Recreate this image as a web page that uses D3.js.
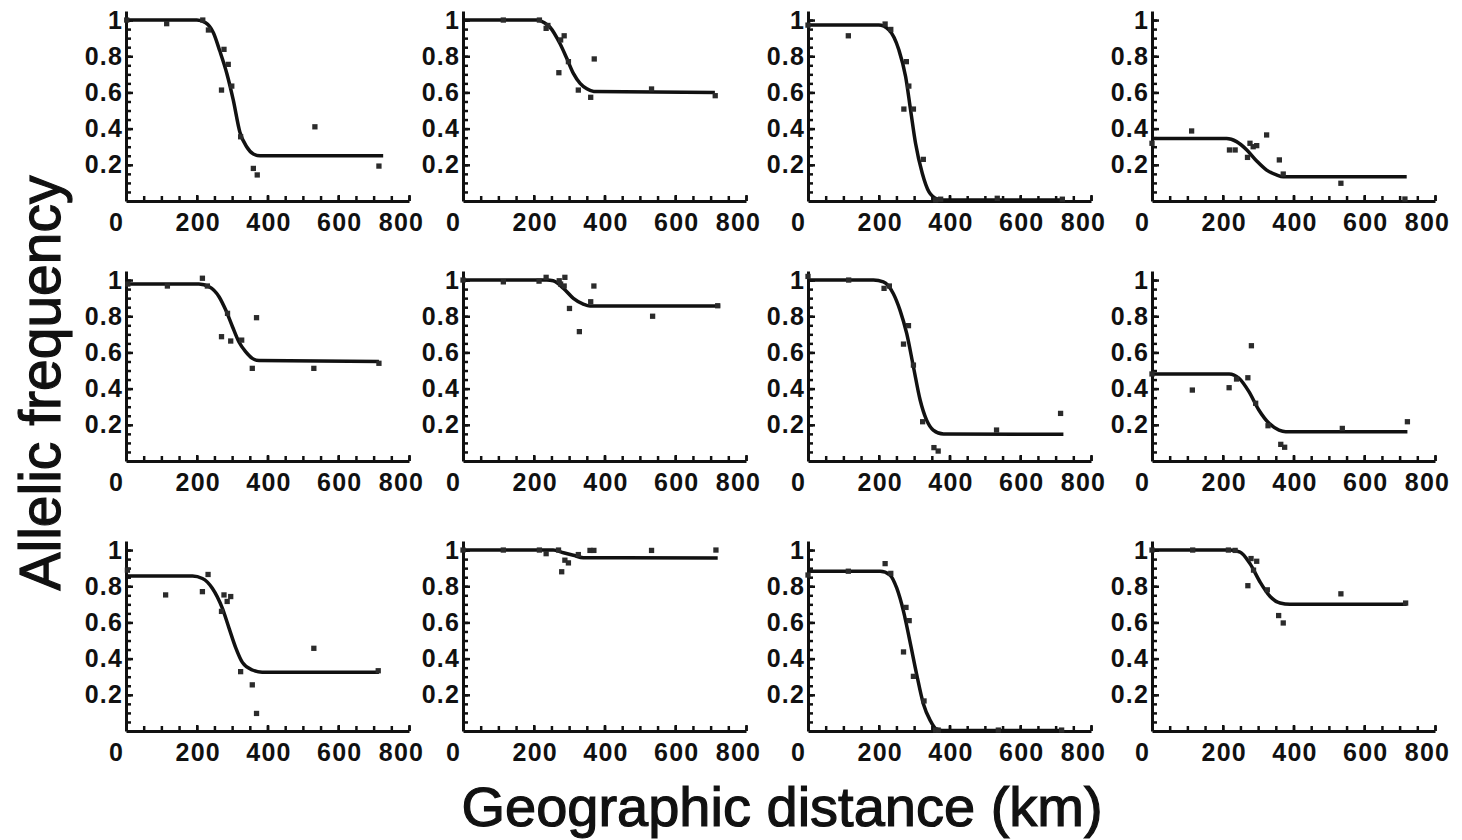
<!DOCTYPE html>
<html>
<head>
<meta charset="utf-8">
<script src="https://cdn.jsdelivr.net/npm/d3@7"></script>
<style>
  html, body { margin: 0; padding: 0; background: #fff; }
  svg { display: block; }
  .tick text { font-family: "Liberation Sans", Arial, sans-serif; font-weight: bold; font-size: 25px; fill: #111; letter-spacing: 1.2px; }
  .title { font-family: "Liberation Sans", Arial, sans-serif; fill: #111; stroke: #111; stroke-width: 1.2px; }
</style>
</head>
<body>
<svg id="chart" width="1462" height="840"></svg>
<script>
// ---------- data ----------
const xTicks = [0, 200, 400, 600, 800];
const xTickLabels = ["0", "200", "400", "600", "800"];
const yTicks = [0.2, 0.4, 0.6, 0.8, 1];
const yTickLabels = ["0.2", "0.4", "0.6", "0.8", "1"];
const xLabel = "Geographic distance (km)";
const yLabel = "Allelic frequency";

// sampled points [km, frequency]
const points1 = [[2,1.0],[115,0.98],[217,1.0],[233,0.945],[277,0.838],[289,0.755],[270,0.613],[299,0.635],[324,0.355],[360,0.18],[371,0.144],[534,0.41],[715,0.193]];
const points2 = [[114,1.0],[216,1.0],[235,0.954],[240,0.97],[286,0.913],[276,0.89],[298,0.77],[271,0.709],[326,0.613],[361,0.573],[371,0.785],[533,0.619],[713,0.582]];
const points3 = [[0,0.972],[114,0.913],[218,0.978],[234,0.948],[278,0.77],[285,0.635],[271,0.508],[298,0.508],[326,0.23],[361,0.006],[375,0.01],[535,0.015],[719,0.01]];
const points4 = [[0,0.319],[112,0.387],[219,0.282],[235,0.282],[270,0.241],[277,0.319],[296,0.306],[286,0.30],[324,0.365],[360,0.227],[371,0.149],[534,0.098],[715,0.011]];
const points5 = [[5,0.978],[117,0.967],[216,1.01],[230,0.967],[287,0.816],[270,0.687],[296,0.663],[327,0.668],[357,0.512],[369,0.792],[531,0.512],[715,0.54]];
const points6 = [[0,1.0],[114,0.99],[215,0.994],[235,1.015],[272,0.996],[276,0.978],[288,1.015],[286,0.967],[301,0.843],[329,0.715],[361,0.88],[370,0.967],[536,0.80],[720,0.858]];
const points7 = [[0,1.02],[115,1.0],[215,0.954],[230,0.967],[284,0.748],[270,0.646],[298,0.53],[324,0.217],[356,0.074],[368,0.055],[533,0.171],[714,0.263]];
const points8 = [[0,0.481],[114,0.392],[218,0.405],[239,0.453],[271,0.46],[281,0.637],[293,0.319],[328,0.195],[364,0.092],[375,0.076],[538,0.18],[722,0.217]];
const points9 = [[4,0.889],[112,0.752],[216,0.77],[232,0.865],[277,0.752],[296,0.743],[286,0.716],[270,0.661],[324,0.328],[357,0.255],[369,0.097],[531,0.457],[713,0.333]];
const points10 = [[0,1.0],[114,1.0],[216,1.0],[235,0.98],[270,1.0],[279,0.88],[288,0.944],[298,0.929],[326,0.975],[359,0.998],[370,0.998],[533,0.998],[715,1.0]];
const points11 = [[0,0.862],[114,0.883],[218,0.925],[234,0.871],[277,0.683],[286,0.61],[270,0.437],[298,0.302],[328,0.166],[361,0.005],[368,0.005],[538,0.005],[717,0.005]];
const points12 = [[0,1.0],[115,1.0],[216,1.0],[235,0.998],[280,0.953],[296,0.938],[287,0.889],[271,0.803],[326,0.78],[358,0.638],[371,0.597],[534,0.758],[717,0.707]];

// fitted cline curves, read as [km, frequency] samples
const curve1 = [[0,1.0],[200,1.0],[225,0.985],[247,0.93],[265,0.83],[285,0.705],[303,0.56],[322,0.38],[341,0.30],[360,0.26],[379,0.25],[727,0.25]];
const curve2 = [[0,1.0],[208,1.0],[230,0.985],[246,0.96],[274,0.87],[293,0.79],[312,0.705],[331,0.65],[350,0.62],[370,0.605],[712,0.60]];
const curve3 = [[0,0.972],[200,0.972],[229,0.945],[257,0.834],[276,0.687],[290,0.503],[304,0.319],[323,0.153],[342,0.05],[366,0.01],[380,0.005],[720,0.005]];
const curve4 = [[0,0.345],[211,0.345],[239,0.328],[268,0.282],[296,0.221],[324,0.171],[352,0.144],[371,0.134],[720,0.134]];
const curve5 = [[0,0.978],[206,0.978],[235,0.963],[263,0.908],[282,0.834],[301,0.742],[319,0.659],[338,0.604],[357,0.567],[376,0.555],[715,0.55]];
const curve6 = [[0,1.0],[237,1.0],[255,0.996],[284,0.954],[312,0.899],[340,0.867],[359,0.856],[727,0.856]];
const curve7 = [[0,1.0],[185,1.0],[213,0.99],[241,0.926],[260,0.834],[279,0.705],[298,0.521],[317,0.337],[335,0.227],[354,0.171],[383,0.149],[722,0.148]];
const curve8 = [[0,0.481],[218,0.481],[246,0.457],[274,0.383],[302,0.282],[331,0.208],[359,0.171],[378,0.162],[722,0.162]];
const curve9 = [[0,0.856],[188,0.856],[216,0.843],[244,0.789],[272,0.68],[291,0.57],[310,0.461],[329,0.379],[357,0.337],[385,0.325],[715,0.324]];
const curve10 = [[0,1.0],[255,1.0],[284,0.985],[312,0.971],[340,0.958],[720,0.956]];
const curve11 = [[0,0.883],[204,0.883],[232,0.862],[251,0.789],[270,0.661],[288,0.497],[307,0.315],[326,0.151],[345,0.06],[364,0.009],[380,0.003],[717,0.003]];
const curve12 = [[0,1.0],[220,1.0],[249,0.989],[277,0.925],[305,0.825],[334,0.743],[362,0.707],[390,0.70],[720,0.70]];

const panelPoints = [points1, points2, points3, points4, points5, points6, points7, points8, points9, points10, points11, points12];
const panelCurves = [curve1, curve2, curve3, curve4, curve5, curve6, curve7, curve8, curve9, curve10, curve11, curve12];

// ---------- layout ----------
const colX = [126, 463, 808, 1152];
const rowY = [201, 461, 731];
const plotW = 283;
const plotH = 190;

const svg = d3.select("#chart");

panelCurves.forEach((curve, i) => {
  const r = Math.floor(i / 4), c = i % 4;
  const x0 = colX[c], y0 = rowY[r];
  const g = svg.append("g").attr("transform", `translate(${x0},${y0 - plotH})`);

  const x = d3.scaleLinear().domain([0, 800]).range([0, plotW]);
  const y = d3.scaleLinear().domain([0, 1.05]).range([plotH, 0]);

  // minor ticks
  g.append("g").attr("transform", `translate(0,${plotH})`)
    .call(d3.axisBottom(x).tickValues(d3.range(50, 801, 50)).tickSize(-5).tickSizeOuter(0).tickFormat(""))
    .call(a => a.select(".domain").remove())
    .call(a => a.selectAll("line").attr("stroke", "#111").attr("stroke-width", 2.5));
  g.append("g")
    .call(d3.axisLeft(y).tickValues(d3.range(1, 21).map(k => k * 0.05)).tickSize(-5).tickSizeOuter(0).tickFormat(""))
    .call(a => a.select(".domain").remove())
    .call(a => a.selectAll("line").attr("stroke", "#111").attr("stroke-width", 2.5));

  // major axes
  const xa = g.append("g").attr("transform", `translate(0,${plotH})`)
    .call(d3.axisBottom(x).tickValues(xTicks).tickSize(-6).tickSizeOuter(0).tickPadding(12)
      .tickFormat((d, k) => xTickLabels[k]));
  xa.select(".domain").attr("stroke", "#111").attr("stroke-width", 3);
  xa.selectAll("line").attr("stroke", "#111").attr("stroke-width", 2.5);
  xa.selectAll(".tick text").attr("dx", (d, k) => k === 0 ? -10 : (k === xTicks.length - 1 ? -8 : 1));

  const ya = g.append("g")
    .call(d3.axisLeft(y).tickValues(yTicks).tickSize(-7).tickSizeOuter(0).tickPadding(3)
      .tickFormat((d, k) => yTickLabels[k]));
  ya.select(".domain").attr("stroke", "#111").attr("stroke-width", 3);
  ya.selectAll("line").attr("stroke", "#111").attr("stroke-width", 2.5);

  // fitted curve
  const line = d3.line().x(d => x(d[0])).y(d => y(d[1])).curve(d3.curveMonotoneX);
  g.append("path").datum(curve).attr("d", line)
    .attr("fill", "none").attr("stroke", "#111").attr("stroke-width", 3.5)
    .attr("stroke-linejoin", "round").attr("stroke-linecap", "butt");

  // data points
  g.selectAll("path.pt").data(panelPoints[i]).join("path").attr("class", "pt")
    .attr("d", d3.symbol().type(d3.symbolSquare).size(28))
    .attr("transform", d => `translate(${x(d[0])},${y(d[1])})`)
    .attr("fill", "#2b2b2b");
});

// axis titles
svg.append("text").attr("class", "title")
  .attr("x", 782).attr("y", 826).attr("text-anchor", "middle")
  .attr("font-size", 56).text(xLabel);
svg.append("text").attr("class", "title")
  .attr("transform", "translate(60,383) rotate(-90)").attr("text-anchor", "middle")
  .attr("font-size", 57).text(yLabel);
</script>
</body>
</html>
